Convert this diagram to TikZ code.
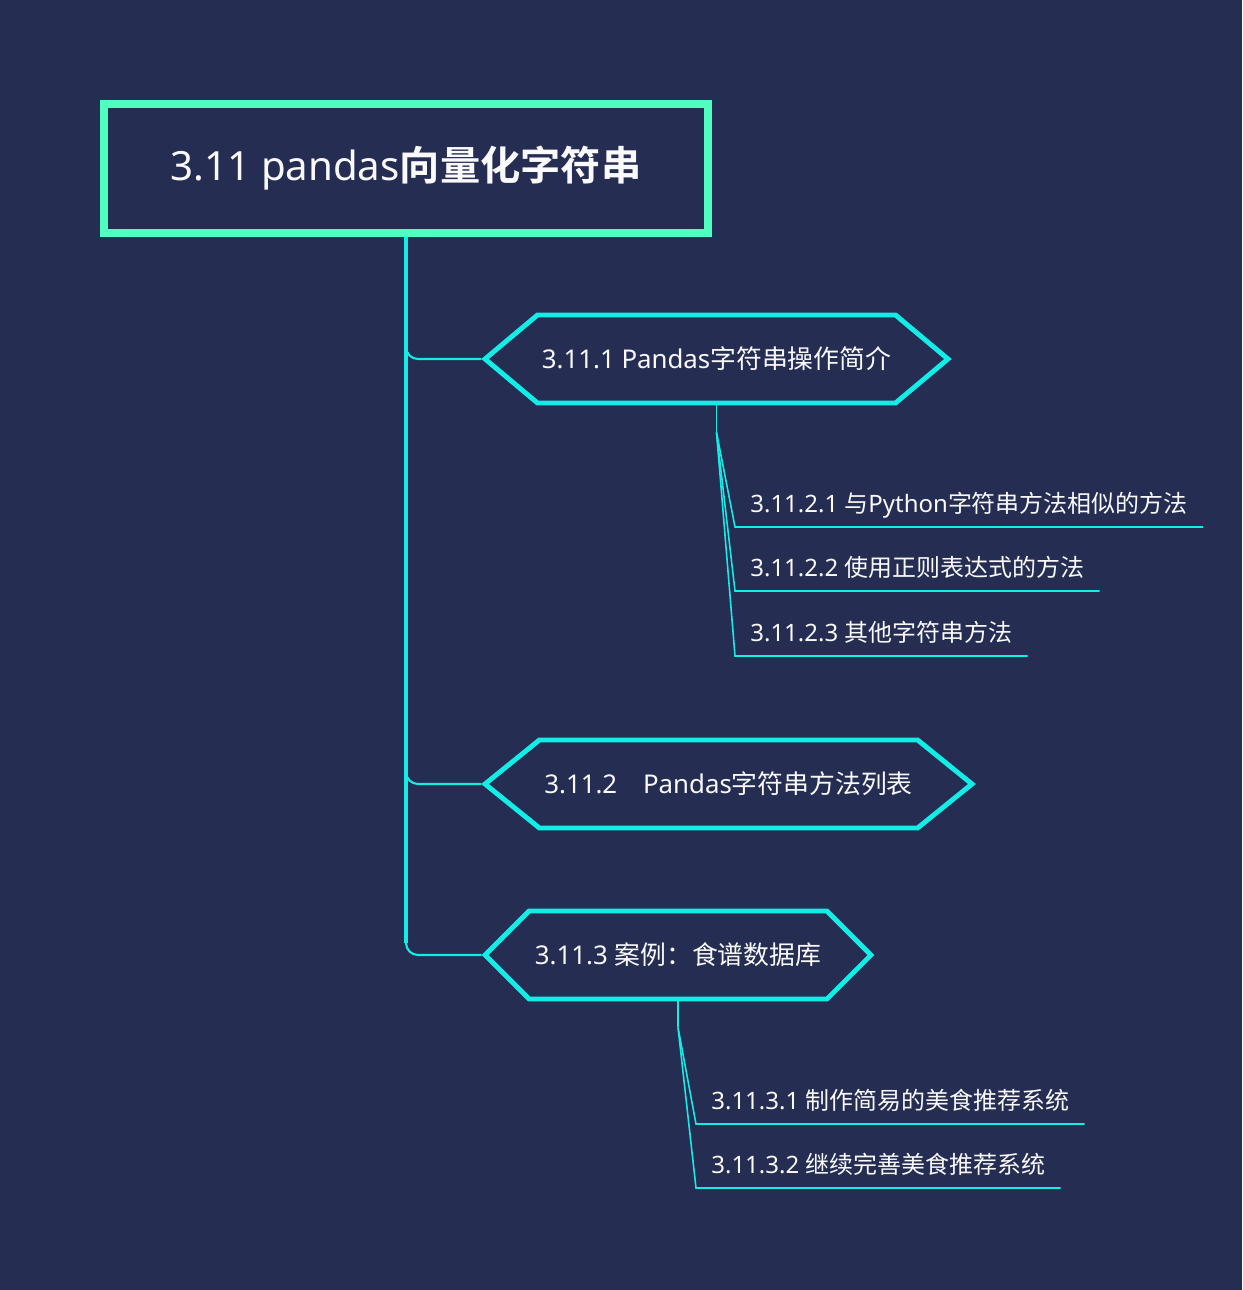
\documentclass[tikz,border=0pt]{standalone}
\usepackage{fontspec}
\setmainfont{Noto Sans}
\newfontfamily\zhfont{Noto Sans CJK SC}[BoldFont={Noto Sans CJK SC Bold}]
\newcommand{\zh}[1]{{\zhfont #1}}
\usepackage{tikz}
\usetikzlibrary{positioning,calc,shapes.symbols}
\definecolor{mapnavy}{RGB}{37,45,82}
\definecolor{rootmint}{RGB}{80,255,192}
\definecolor{mapcyan}{RGB}{18,237,230}
\definecolor{labelwhite}{RGB}{250,250,252}

\begin{document}
\begin{tikzpicture}[x=0.02cm,y=-0.02cm,
    rootbox/.style={draw=rootmint,line width=4.5pt,minimum width=12.08cm,
      minimum height=2.58cm,inner sep=0pt,text=labelwhite,font=\fontsize{22.9}{26}\selectfont},
    hexbox/.style={signal,signal to=west and east,draw=mapcyan,line width=2.8pt,
      minimum height=1.76cm,inner xsep=0pt,text=labelwhite,font=\fontsize{14.7}{18}\selectfont},
    leaf/.style={anchor=south west,inner xsep=0.3cm,inner ysep=0.2cm,text depth=0.25em,
      text=labelwhite,font=\fontsize{13.65}{16}\selectfont},
    trunk/.style={mapcyan,line width=2.4pt},
    twig/.style={mapcyan,line width=1.2pt,rounded corners=0.24cm},
    leafline/.style={mapcyan,line width=0.9pt}]
    % canvas
    \fill[mapnavy] (0,0) rectangle (1242,1290);
    \useasboundingbox (0,0) rectangle (1242,1290);
    % root
    \node[rootbox] (root) at (406,168.5) {3.11 pandas\zh{\bfseries 向量化字符串}};
    % branches
    \node[hexbox,signal pointer angle=80,minimum width=9.26cm] (h1) at (716.5,359)
      {3.11.1 Pandas\zh{字符串操作简介}};
    \node[hexbox,signal pointer angle=78,minimum width=9.74cm] (h2) at (728.5,784)
      {3.11.2\zh{　}Pandas\zh{字符串方法列表}};
    \node[hexbox,signal pointer angle=90,minimum width=7.72cm] (h3) at (678,955)
      {3.11.3 \zh{案例：食谱数据库}};
    \draw[trunk] (root.south) -- ($(root.south |- h3.west)+(0,-12)$);
    \foreach \n in {h1,h2,h3}
      \draw[twig] (root.south) |- (\n.west);
    % leaves of 3.11.1
    \node[leaf] (l1) at (735,527) {3.11.2.1 \zh{与}Python\zh{字符串方法相似的方法}};
    \node[leaf] (l2) at (735,591) {3.11.2.2 \zh{使用正则表达式的方法}};
    \node[leaf] (l3) at (735,656) {3.11.2.3 \zh{其他字符串方法}};
    \coordinate (f1) at ($(h1.south)+(0,27)$);
    \draw[leafline] (h1.south) -- (f1);
    \foreach \l in {l1,l2,l3}{
      \draw[leafline] (f1) -- (\l.south west) -- (\l.south east);}
    % leaves of 3.11.3
    \node[leaf] (m1) at (696,1124) {3.11.3.1 \zh{制作简易的美食推荐系统}};
    \node[leaf] (m2) at (696,1188) {3.11.3.2 \zh{继续完善美食推荐系统}};
    \coordinate (f3) at ($(h3.south)+(0,26)$);
    \draw[leafline] (h3.south) -- (f3);
    \foreach \l in {m1,m2}{
      \draw[leafline] (f3) -- (\l.south west) -- (\l.south east);}
  \end{tikzpicture}
\end{document}
